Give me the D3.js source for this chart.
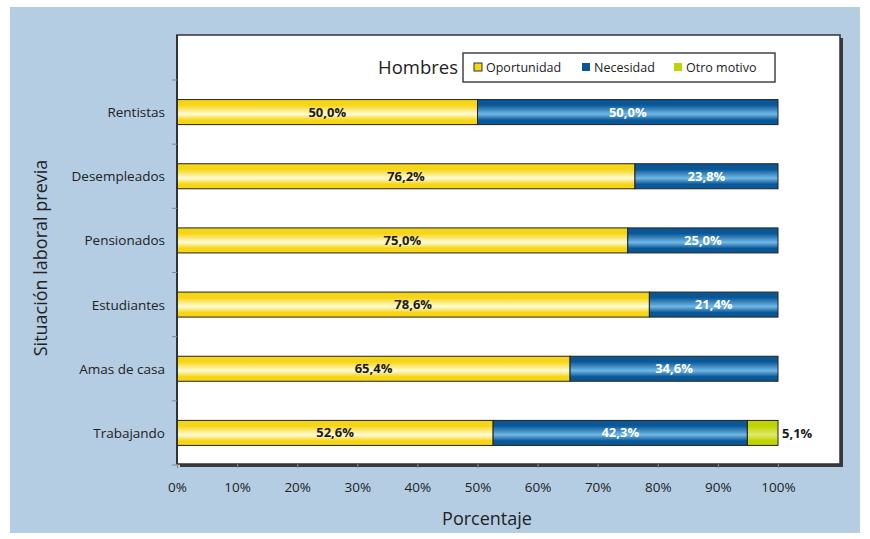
<!DOCTYPE html>
<html><head><meta charset="utf-8">
<script src="https://cdn.jsdelivr.net/npm/d3@7"></script>
<style>body{margin:0;background:#fff}svg{display:block;font-family:"Open Sans",sans-serif}</style>
</head><body><svg id="c" width="870" height="539"></svg>
<script>
const categories = ["Rentistas","Desempleados","Pensionados","Estudiantes","Amas de casa","Trabajando"];
const oportunidad = [50.0,76.2,75.0,78.6,65.4,52.6];
const necesidad  = [50.0,23.8,25.0,21.4,34.6,42.3];
const otro       = [0,0,0,0,0,5.1];
const seriesNames = ["Oportunidad","Necesidad","Otro motivo"];
const xTicks = [0,10,20,30,40,50,60,70,80,90,100];

(function(){
const svg = d3.select("#c");
const defs = svg.append("defs");
function grad(id, edge, mid){
  const g = defs.append("linearGradient").attr("id",id).attr("x1",0).attr("y1",0).attr("x2",0).attr("y2",1);
  g.append("stop").attr("offset","0%").attr("stop-color",edge);
  g.append("stop").attr("offset","22%").attr("stop-color",edge);
  g.append("stop").attr("offset","58%").attr("stop-color",mid);
  g.append("stop").attr("offset","82%").attr("stop-color",edge);
  g.append("stop").attr("offset","100%").attr("stop-color",edge);
}
grad("gY","#f6d515","#fffbd8");
grad("gB","#0a5797","#70b8e6");
grad("gG","#bfd300","#dfe96a");
const fills = ["url(#gY)","url(#gB)","url(#gG)"];
const legendColors = ["#f6d515","#0a5797","#bfd300"];

svg.append("rect").attr("x",10).attr("y",7).attr("width",850).attr("height",526).attr("fill","#b4cde2");

const pL=177, pR=840, pT=35, pB=464;
svg.append("rect").attr("x",pL+3).attr("y",pT+3).attr("width",pR-pL).attr("height",pB-pT).attr("fill","#3a3a3a");
svg.append("rect").attr("x",pL).attr("y",pT).attr("width",pR-pL).attr("height",pB-pT).attr("fill","#fff").attr("stroke","#333").attr("stroke-width",1.5);

const x = d3.scaleLinear().domain([0,100]).range([177,778]);
const y = d3.scaleBand().domain(categories).range([80,465]).paddingInner(0.61).paddingOuter(0.305);

const stackData = categories.map((c,i)=>({cat:c,vals:[oportunidad[i],necesidad[i],otro[i]]}));
stackData.forEach(d=>{
  let acc=0;
  d.vals.forEach((v,k)=>{
    if(v<=0) return;
    const x0=x(acc), x1=x(acc+v);
    svg.append("rect").attr("x",x0).attr("y",y(d.cat)).attr("width",x1-x0).attr("height",y.bandwidth())
      .attr("fill",fills[k]).attr("stroke","#222").attr("stroke-width",1);
    const lbl = d3.format(".1f")(v).replace(".",",")+"%";
    if(k<2){
      svg.append("text").attr("x",(x0+x1)/2).attr("y",y(d.cat)+y.bandwidth()/2+4.5)
        .attr("text-anchor","middle").attr("font-size",13).attr("font-weight","bold")
        .attr("fill",k==0?"#1a1a1a":"#fff").text(lbl);
    } else {
      svg.append("text").attr("x",x1+4).attr("y",y(d.cat)+y.bandwidth()/2+5)
        .attr("font-size",13).attr("font-weight","bold").attr("fill","#1a1a1a").text(lbl);
    }
    acc+=v;
  });
});

svg.append("line").attr("x1",pL).attr("x2",pL).attr("y1",pT).attr("y2",pB).attr("stroke","#333").attr("stroke-width",2);
const step = y.step();
for(let i=0;i<=categories.length;i++){
  const yy = 80 + i*step;
  svg.append("line").attr("x1",pL-5).attr("x2",pL).attr("y1",yy).attr("y2",yy).attr("stroke","#888");
}
categories.forEach(c=>{
  svg.append("text").attr("x",pL-12).attr("y",y(c)+y.bandwidth()/2+5).attr("text-anchor","end")
    .attr("font-size",13.5).attr("fill","#222").text(c);
});
const xa = svg.append("g").attr("transform",`translate(0,${pB})`)
  .call(d3.axisBottom(x).tickValues(xTicks).tickSize(4).tickFormat(d=>d+"%"));
xa.select(".domain").remove();
xa.selectAll("line").attr("stroke","#888");
xa.selectAll("text").attr("font-size",13.5).attr("fill","#222").attr("dy","1.55em").style("font-family","Open Sans");

svg.append("text").attr("x",487).attr("y",525).attr("text-anchor","middle").attr("font-size",18).attr("fill","#222").text("Porcentaje");
svg.append("text").attr("transform","translate(47,258) rotate(-90)").attr("text-anchor","middle").attr("font-size",18).attr("fill","#222").text("Situación laboral previa");

svg.append("text").attr("x",458).attr("y",74).attr("text-anchor","end").attr("font-size",18.5).attr("fill","#222").text("Hombres");
svg.append("rect").attr("x",463).attr("y",53).attr("width",312).attr("height",29).attr("fill","#fff").attr("stroke","#444").attr("stroke-width",1.5);
const legX=[474,582,674];
seriesNames.forEach((n,k)=>{
  svg.append("rect").attr("x",legX[k]).attr("y",63).attr("width",8).attr("height",8)
    .attr("fill",legendColors[k]).attr("stroke",k==0?"#333":"none");
  svg.append("text").attr("x",legX[k]+12).attr("y",72).attr("font-size",12.5).attr("fill","#222").text(n);
});
})();
</script></body></html>
